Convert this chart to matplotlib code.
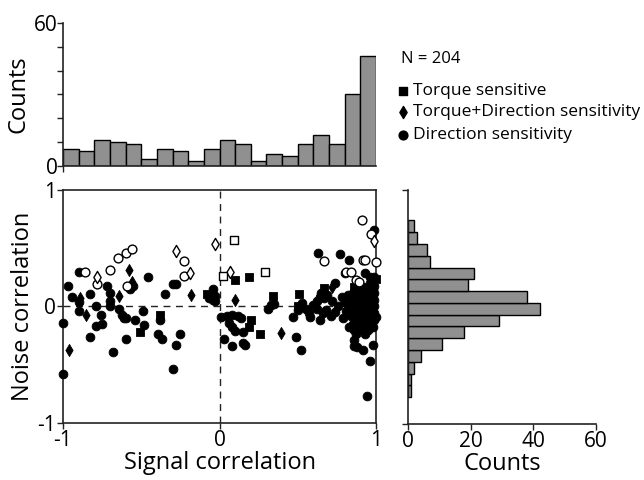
import numpy as np
import matplotlib
matplotlib.use("Agg")
import matplotlib.pyplot as plt

plt.rcParams['font.family'] = ['Open Sans', 'DejaVu Sans']

# ---------------- data ----------------
# top histogram: signal correlation counts (20 bins, -1..1)
sig_counts = [7, 6, 11, 10, 9, 3, 7, 6, 2, 7, 11, 9, 2, 5, 4, 9, 13, 9, 30, 46]
sig_edges = np.linspace(-1, 1, 21)

# right histogram: noise correlation counts (15 bins spanning data range)
noise_counts = [1, 1, 2, 4, 11, 18, 29, 42, 38, 19, 21, 7, 6, 3, 2]
noise_edges = np.linspace(-0.77, 0.74, 16)

# scatter points (signal corr, noise corr)
circ_x = [-1.00, -1.00, -0.97, -0.94, -0.90, -0.90, -0.90, -0.83, -0.79, -0.76,
          -0.75, -0.79, -0.83, -0.72, -0.70, -0.70, -0.70, -0.68, -0.64, -0.62,
          -0.61, -0.60, -0.55, -0.57, -0.46, -0.54, -0.49, -0.48, -0.38, -0.39,
          -0.37, -0.28, -0.25, -0.30, -0.35, -0.30, -0.28, -0.60,
          -0.04, -0.03, -0.07, -0.04, -0.03, 0.01, 0.05, 0.08, 0.12, 0.14,
          0.06, 0.08, 0.10, 0.15, 0.03, 0.08, 0.15, 0.16, 0.31, 0.33,
          0.35, 0.49, 0.52, 0.47, 0.50, 0.53, 0.55, 0.57, 0.58, 0.60,
          0.62, 0.64, 0.64, 0.67, 0.68, 0.63,
          0.77, 0.83, 0.99, 0.80, 0.93, 0.96, 0.99, 0.74,
          0.86, 0.86, 0.92, 0.98, 0.96, 0.94, 0.88,
          0.99, 0.99, 0.99, 0.99, 0.99, 0.99, 0.98, 0.97, 0.97, 0.97,
          0.96, 0.96, 0.95, 0.95, 0.94, 0.94, 0.94, 0.93, 0.93, 0.92,
          0.92, 0.92, 0.91, 0.91, 0.93, 0.90, 0.90, 0.95, 0.98, 1.00,
          0.89, 0.89, 0.89, 0.88, 0.88, 0.88, 0.87, 0.87, 0.86, 0.86,
          0.85, 0.85, 0.84, 0.84, 0.83, 0.83, 0.82, 0.81, 0.80, 0.86,
          0.79, 0.78, 0.76, 0.74, 0.72, 0.71,
          0.69, 0.66, 0.62, 0.65]
circ_y = [-0.14, -0.58, 0.18, 0.08, 0.30, 0.04, -0.04, 0.11, 0.00, -0.07,
          -0.15, -0.17, -0.26, 0.18, 0.12, 0.05, 0.00, -0.39, -0.02, -0.07,
          -0.10, -0.28, 0.18, 0.15, 0.25, -0.12, -0.04, -0.16, -0.12, -0.24,
          -0.28, -0.33, -0.24, -0.54, 0.11, 0.19, 0.19, -0.10,
          0.15, 0.09, 0.07, 0.06, 0.05, -0.09, -0.08, -0.07, -0.08, -0.10,
          -0.14, -0.18, -0.21, -0.22, -0.28, -0.34, -0.31, -0.33, -0.02, 0.01,
          0.02, -0.26, -0.37, -0.09, -0.03, 0.03, -0.02, -0.06, -0.09, 0.01,
          0.05, -0.12, 0.08, 0.07, -0.03, 0.46,
          0.45, 0.40, 0.66, 0.29, 0.29, 0.25, 0.25, 0.20,
          -0.29, -0.34, -0.37, -0.33, -0.47, -0.77, -0.35,
          0.18, 0.12, 0.06, 0.00, -0.06, -0.12, 0.15, 0.09, 0.03, -0.03,
          -0.09, 0.20, 0.05, -0.01, 0.14, -0.06, -0.14, 0.08, 0.02, -0.10,
          -0.18, 0.17, 0.11, -0.04, -0.24, 0.05, -0.14, -0.20, -0.18, -0.09,
          0.10, -0.02, -0.20, 0.15, 0.04, -0.10, -0.24, 0.08, -0.05, 0.02,
          0.12, -0.15, 0.06, -0.08, 0.00, -0.18, 0.10, -0.04, 0.04, -0.20,
          -0.10, 0.08, 0.00, -0.05, 0.05, -0.08,
          0.10, -0.06, -0.02, 0.12]

sq_x = [-0.51, -0.38, -0.08, 0.10, 0.19, 0.20, 0.19, 0.26, 0.34, 0.51, 0.67, 0.50, 1.00, 0.86]
sq_y = [-0.22, -0.07, 0.11, 0.23, 0.25, -0.12, -0.18, -0.24, 0.09, 0.11, 0.16, 0.00, 0.24, 0.17]

dia_x = [-0.96, -0.89, -0.85, -0.64, -0.58, -0.56, -0.18, 0.10, 0.39, 0.72, 0.96]
dia_y = [-0.37, 0.07, -0.07, 0.09, 0.31, 0.21, 0.10, 0.06, -0.23, 0.17, 0.12]

ocirc_x = [-0.86, -0.78, -0.70, -0.65, -0.60, -0.56, -0.59, -0.23, -0.23, 0.67,
           0.91, 0.97, 1.00, 0.92, 0.93, 0.81, 0.84, 0.87, 0.89]
ocirc_y = [0.30, 0.19, 0.31, 0.42, 0.46, 0.49, 0.18, 0.39, 0.26, 0.39,
           0.74, 0.62, 0.38, 0.40, 0.40, 0.30, 0.30, 0.23, 0.21]

odia_x = [-0.78, -0.28, -0.19, -0.03, 0.07, 0.99]
odia_y = [0.25, 0.48, 0.29, 0.54, 0.30, 0.56]

osq_x = [0.09, 0.02, 0.29]
osq_y = [0.57, 0.26, 0.30]

legend_labels = ["Torque sensitive", "Torque+Direction sensitivity", "Direction sensitivity"]
n_text = "N = 204"

# ---------------- figure ----------------
W, H = 644, 480
fig = plt.figure(figsize=(W / 100, H / 100), dpi=100)

def rect(l, t, r, b):
    return [l / W, 1 - b / H, (r - l) / W, (b - t) / H]

bar_color = '#909090'
spine_col = '#222222'
tick_fs = 15
lab_fs = 17

S_C, S_S, S_D = 40, 30, 38

# main scatter
ax = fig.add_axes(rect(63, 190, 376, 423))
ax.set_xlim(-1, 1)
ax.set_ylim(-1, 1)
ax.axvline(0, color='#222222', lw=1.0, ls=(0, (5, 4)), zorder=1)
ax.axhline(0, color='#222222', lw=1.0, ls=(0, (5, 4)), zorder=1)
kw = dict(zorder=3, clip_on=False)
ax.scatter(circ_x, circ_y, s=S_C, marker='o', c='black', edgecolors='black', linewidths=0.6, **kw)
ax.scatter(sq_x, sq_y, s=S_S, marker='s', c='black', edgecolors='black', linewidths=0.6, **kw)
ax.scatter(dia_x, dia_y, s=S_D, marker='d', c='black', edgecolors='black', linewidths=0.6, **kw)
ax.scatter(ocirc_x, ocirc_y, s=S_C, marker='o', facecolors='white', edgecolors='black', linewidths=1.0, **kw)
ax.scatter(odia_x, odia_y, s=S_D, marker='d', facecolors='white', edgecolors='black', linewidths=1.0, **kw)
ax.scatter(osq_x, osq_y, s=S_S, marker='s', facecolors='white', edgecolors='black', linewidths=1.0, **kw)
ax.set_xticks([-1, 0, 1])
ax.set_xticklabels(['-1', '0', '1'])
ax.set_yticks([-1, 0, 1])
ax.set_yticklabels(['-1', '0', '1'])
ax.tick_params(direction='out', length=4, width=1.0, labelsize=tick_fs, pad=1, color=spine_col)
for s in ax.spines.values():
    s.set_linewidth(1.2)
    s.set_color(spine_col)
ax.set_xlabel('Signal correlation', fontsize=lab_fs, labelpad=0)
ax.set_ylabel('Noise correlation', fontsize=lab_fs, labelpad=2)

# top histogram
axt = fig.add_axes(rect(63, 23, 376, 165.7))
axt.bar(sig_edges[:-1], sig_counts, width=np.diff(sig_edges), align='edge',
        color=bar_color, edgecolor='black', linewidth=1.0)
axt.set_xlim(-1, 1)
axt.set_ylim(0, 60)
axt.set_yticks(np.arange(0, 61, 10))
axt.set_yticklabels(['0', '', '', '', '', '', '60'])
axt.set_xticks([-1])
axt.set_xticklabels([''])
axt.tick_params(direction='out', length=4, width=1.0, labelsize=tick_fs, pad=0, color=spine_col)
axt.spines['top'].set_visible(False)
axt.spines['right'].set_visible(False)
for s in ['left', 'bottom']:
    axt.spines[s].set_linewidth(1.2)
    axt.spines[s].set_color(spine_col)
axt.set_ylabel('Counts', fontsize=lab_fs, labelpad=2)

# right histogram
axr = fig.add_axes(rect(408, 190, 596, 424))
axr.barh(noise_edges[:-1], noise_counts, height=np.diff(noise_edges), align='edge',
         color=bar_color, edgecolor='black', linewidth=1.0)
axr.set_ylim(-1, 1)
axr.set_xlim(0, 60)
axr.set_xticks([0, 20, 40, 60])
axr.set_yticks([-1, 1])
axr.set_yticklabels(['', ''])
axr.tick_params(direction='out', length=4, width=1.0, labelsize=tick_fs, pad=1, color=spine_col)
axr.spines['top'].set_visible(False)
axr.spines['right'].set_visible(False)
for s in ['left', 'bottom']:
    axr.spines[s].set_linewidth(1.2)
    axr.spines[s].set_color(spine_col)
axr.set_xlabel('Counts', fontsize=lab_fs, labelpad=0)

# legend (manual, in pixel coordinates)
axl = fig.add_axes([0, 0, 1, 1], zorder=-1)
axl.set_xlim(0, W)
axl.set_ylim(H, 0)
axl.axis('off')
axl.text(401, 59, n_text, fontsize=12, va='center', ha='left')
leg_marks = ['s', 'd', 'o']
leg_sizes = [S_S, S_D, S_C]
leg_y = [91, 112, 135]
for m, sz, yy, lab in zip(leg_marks, leg_sizes, leg_y, legend_labels):
    axl.scatter([403], [yy], marker=m, s=sz, c='black')
    axl.text(413, yy, lab, fontsize=12.5, va='center', ha='left')

fig.savefig('out.png', dpi=100)
